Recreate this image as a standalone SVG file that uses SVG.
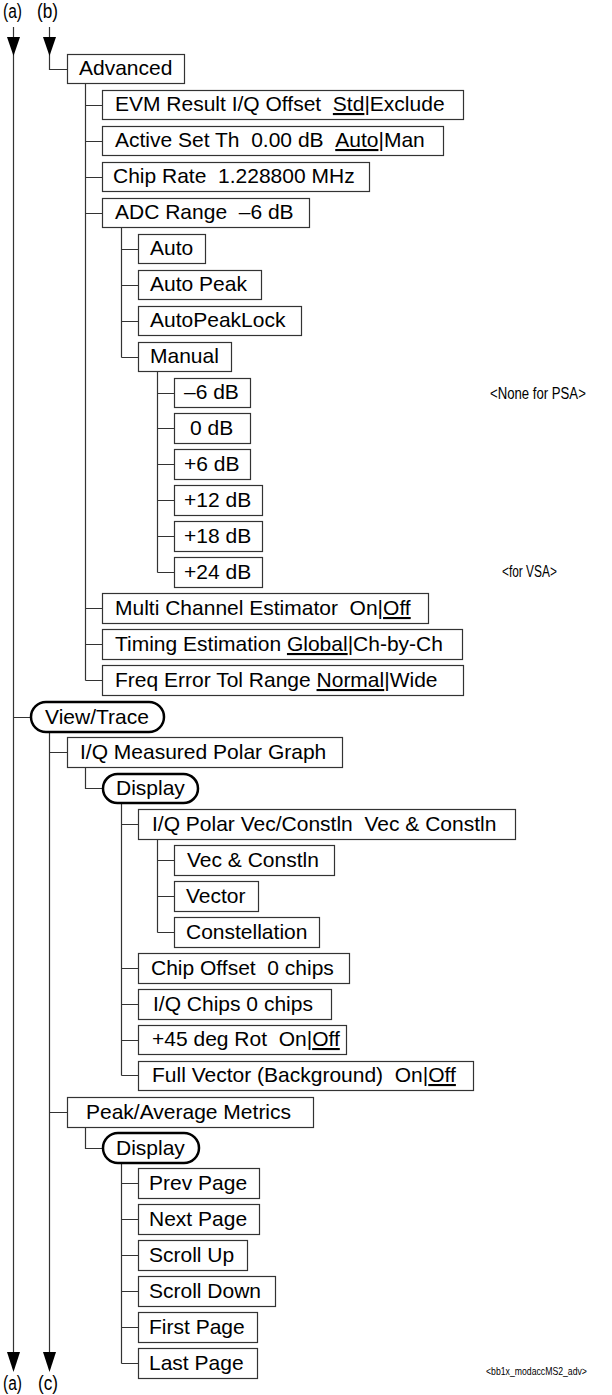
<svg xmlns="http://www.w3.org/2000/svg" width="612" height="1395" viewBox="0 0 612 1395">
<style>
.t{font-family:"Liberation Sans",Arial,sans-serif;font-size:21px;fill:#000}
.b{fill:#fff;stroke:#333;stroke-width:1.2}
.p{fill:#fff;stroke:#000;stroke-width:2.5}
.c{fill:none;stroke:#333;stroke-width:1.2}
.h{fill:#000;stroke:none}
.l{font-family:"Liberation Sans",Arial,sans-serif;font-size:20px;fill:#000}
.n{font-family:"Liberation Sans",Arial,sans-serif;font-size:17px;fill:#000}
.u{text-decoration:underline}
</style>
<g id="connectors">
<path class="c" d="M13.5 27V1353M13.5 717.5H30"/>
<path class="c" d="M49.5 27V69.5H67"/>
<path class="c" d="M49.5 732V1353M49.5 752.5H67M49.5 1112.5H67"/>
<path class="c" d="M85.5 83V680.5M85.5 105.5H102M85.5 141.5H102M85.5 177.5H102M85.5 213.5H102M85.5 608.5H102M85.5 644.5H102M85.5 680.5H102"/>
<path class="c" d="M121.5 227V357.5M121.5 249.5H138M121.5 285.5H138M121.5 321.5H138M121.5 357.5H138"/>
<path class="c" d="M157.5 371V572.5M157.5 393.5H174M157.5 428.5H174M157.5 464.5H174M157.5 500.5H174M157.5 536.5H174M157.5 572.5H174"/>
<path class="c" d="M85.5 767V788.5H102"/>
<path class="c" d="M121.5 803V1075.5M121.5 824.5H138M121.5 968.5H138M121.5 1004.5H138M121.5 1040.5H138M121.5 1075.5H138"/>
<path class="c" d="M157.5 839V932.5M157.5 860.5H174M157.5 896.5H174M157.5 932.5H174"/>
<path class="c" d="M85.5 1127V1148.5H102"/>
<path class="c" d="M121.5 1163V1363.5M121.5 1183.5H138M121.5 1219.5H138M121.5 1255.5H138M121.5 1291.5H138M121.5 1327.5H138M121.5 1363.5H138"/>
<polygon class="h" points="7,37 20,37 13.5,56"/>
<polygon class="h" points="43,37 56,37 49.5,56"/>
<polygon class="h" points="7,1352 20,1352 13.5,1372"/>
<polygon class="h" points="43,1352 56,1352 49.5,1372"/>
</g>
<g id="labels">
<text class="l" x="3" y="18" textLength="19" lengthAdjust="spacingAndGlyphs">(a)</text>
<text class="l" x="37" y="18" textLength="21" lengthAdjust="spacingAndGlyphs">(b)</text>
<text class="l" x="3" y="1390" textLength="19" lengthAdjust="spacingAndGlyphs">(a)</text>
<text class="l" x="38" y="1390" textLength="20" lengthAdjust="spacingAndGlyphs">(c)</text>
<text class="n" transform="translate(490 398.5) scale(0.775 1)">&lt;None for PSA&gt;</text>
<text class="n" transform="translate(502 576.5) scale(0.70 1)">&lt;for VSA&gt;</text>
<text class="n" style="font-size:11px" transform="translate(486 1375) scale(0.79 1)">&lt;bb1x_modaccMS2_adv&gt;</text>
</g>
<g id="n-advanced"><rect class="b" x="67.5" y="54.5" width="117" height="29"/><text class="t" x="79" y="75">Advanced</text></g>
<g id="n-evm"><rect class="b" x="102.5" y="90.5" width="361" height="29"/><text class="t" x="115" y="111">EVM Result I/Q Offset &#160;<tspan class="u">Std</tspan>|Exclude</text></g>
<g id="n-activeset"><rect class="b" x="102.5" y="126.5" width="341" height="29"/><text class="t" x="115" y="147">Active Set Th &#160;0.00 dB &#160;<tspan class="u">Auto</tspan>|Man</text></g>
<g id="n-chiprate"><rect class="b" x="102.5" y="162.5" width="267" height="29"/><text class="t" x="113" y="183">Chip Rate &#160;1.228800 MHz</text></g>
<g id="n-adcrange"><rect class="b" x="102.5" y="198.5" width="207" height="29"/><text class="t" x="115" y="219">ADC Range &#160;–6 dB</text></g>
<g id="n-auto"><rect class="b" x="138.5" y="234.5" width="67" height="29"/><text class="t" x="150" y="255">Auto</text></g>
<g id="n-autopeak"><rect class="b" x="138.5" y="270.5" width="123" height="29"/><text class="t" x="150" y="291">Auto Peak</text></g>
<g id="n-autopeaklock"><rect class="b" x="138.5" y="306.5" width="163" height="29"/><text class="t" x="150" y="327">AutoPeakLock</text></g>
<g id="n-manual"><rect class="b" x="138.5" y="342.5" width="93" height="29"/><text class="t" x="150" y="363">Manual</text></g>
<g id="n-m6db"><rect class="b" x="174.5" y="378.5" width="76" height="29"/><text class="t" x="184" y="399">–6 dB</text></g>
<g id="n-0db"><rect class="b" x="174.5" y="413.5" width="76" height="30"/><text class="t" x="190" y="435">0 dB</text></g>
<g id="n-p6db"><rect class="b" x="174.5" y="449.5" width="76" height="30"/><text class="t" x="184" y="471">+6 dB</text></g>
<g id="n-p12db"><rect class="b" x="174.5" y="485.5" width="88" height="30"/><text class="t" x="184" y="507">+12 dB</text></g>
<g id="n-p18db"><rect class="b" x="174.5" y="521.5" width="88" height="30"/><text class="t" x="184" y="543">+18 dB</text></g>
<g id="n-p24db"><rect class="b" x="174.5" y="557.5" width="88" height="30"/><text class="t" x="184" y="579">+24 dB</text></g>
<g id="n-multichannel"><rect class="b" x="102.5" y="593.5" width="326" height="30"/><text class="t" x="115" y="615">Multi Channel Estimator &#160;On|<tspan class="u">Off</tspan></text></g>
<g id="n-timing"><rect class="b" x="102.5" y="629.5" width="360" height="30"/><text class="t" x="115" y="651">Timing Estimation <tspan class="u">Global</tspan>|Ch-by-Ch</text></g>
<g id="n-freqerr"><rect class="b" x="102.5" y="665.5" width="361" height="30"/><text class="t" x="115" y="687">Freq Error Tol Range <tspan class="u">Normal</tspan>|Wide</text></g>
<g id="n-viewtrace"><rect class="p" x="31" y="702" width="133" height="30" rx="15"/><text class="t" x="45" y="724">View/Trace</text></g>
<g id="n-iqpolar"><rect class="b" x="67.5" y="737.5" width="275" height="30"/><text class="t" x="80" y="759">I/Q Measured Polar Graph</text></g>
<g id="n-display1"><rect class="p" x="103" y="774" width="95" height="29" rx="14.5"/><text class="t" x="116" y="795">Display</text></g>
<g id="n-polarvec"><rect class="b" x="138.5" y="809.5" width="377" height="30"/><text class="t" x="152" y="831">I/Q Polar Vec/Constln &#160;Vec &amp; Constln</text></g>
<g id="n-vecconst"><rect class="b" x="174.5" y="845.5" width="160" height="30"/><text class="t" x="187" y="867">Vec &amp; Constln</text></g>
<g id="n-vector"><rect class="b" x="174.5" y="881.5" width="84" height="30"/><text class="t" x="186" y="903">Vector</text></g>
<g id="n-constellation"><rect class="b" x="174.5" y="917.5" width="145" height="30"/><text class="t" x="186" y="939">Constellation</text></g>
<g id="n-chipoffset"><rect class="b" x="138.5" y="953.5" width="211" height="30"/><text class="t" x="151" y="975">Chip Offset &#160;0 chips</text></g>
<g id="n-iqchips"><rect class="b" x="138.5" y="989.5" width="193" height="30"/><text class="t" x="153" y="1011">I/Q Chips 0 chips</text></g>
<g id="n-rot45"><rect class="b" x="138.5" y="1025.5" width="208" height="29"/><text class="t" x="152" y="1046">+45 deg Rot &#160;On|<tspan class="u">Off</tspan></text></g>
<g id="n-fullvector"><rect class="b" x="138.5" y="1061.5" width="335" height="29"/><text class="t" x="152" y="1082">Full Vector (Background) &#160;On|<tspan class="u">Off</tspan></text></g>
<g id="n-peakavg"><rect class="b" x="67.5" y="1097.5" width="246" height="30"/><text class="t" x="86" y="1119">Peak/Average Metrics</text></g>
<g id="n-display2"><rect class="p" x="103" y="1133" width="96" height="30" rx="15"/><text class="t" x="116" y="1155">Display</text></g>
<g id="n-prevpage"><rect class="b" x="138.5" y="1168.5" width="121" height="30"/><text class="t" x="149" y="1190">Prev Page</text></g>
<g id="n-nextpage"><rect class="b" x="138.5" y="1204.5" width="121" height="30"/><text class="t" x="149" y="1226">Next Page</text></g>
<g id="n-scrollup"><rect class="b" x="138.5" y="1240.5" width="109" height="30"/><text class="t" x="149" y="1262">Scroll Up</text></g>
<g id="n-scrolldown"><rect class="b" x="138.5" y="1276.5" width="137" height="30"/><text class="t" x="149" y="1298">Scroll Down</text></g>
<g id="n-firstpage"><rect class="b" x="138.5" y="1312.5" width="119" height="30"/><text class="t" x="149" y="1334">First Page</text></g>
<g id="n-lastpage"><rect class="b" x="138.5" y="1348.5" width="119" height="30"/><text class="t" x="149" y="1370">Last Page</text></g>
</svg>
